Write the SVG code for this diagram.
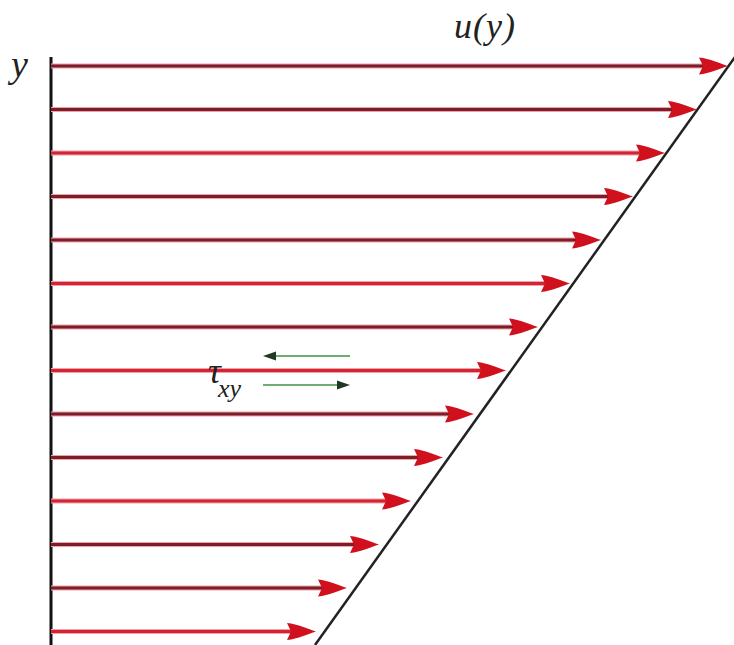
<svg xmlns="http://www.w3.org/2000/svg" width="734" height="645" viewBox="0 0 734 645">
<style>
.bg{fill:#ffffff}
.axis{stroke:#111;stroke-width:3;fill:none}
.prof{stroke:#222;stroke-width:2.5;fill:none}
.halo{stroke:#f3a0a8;stroke-width:5;fill:none}
.r{stroke:#d32434;stroke-width:3;fill:none}
.d{stroke:#7a1e2a;stroke-width:3;fill:none}
.head{fill:#d0101c}
.g{stroke:#6fae72;stroke-width:2;fill:none}
.ghead{fill:#1f3a22}
.lbl{font-family:"Liberation Serif","DejaVu Serif",serif;font-style:italic;fill:#222}
</style>
<defs>
<path id="ah" d="M0,0 C-8,-2.5 -18,-7.5 -29,-8.5 L-25,0 L-29,8.5 C-18,7.5 -8,2.5 0,0Z"/>
<path id="gh" d="M0,0 L-13,-4.5 L-13,4.5Z"/>
</defs>
<rect class="bg" x="0" y="0" width="734" height="645"/>
<g id="connectors">
<line id="y-axis" class="axis" x1="51" y1="57" x2="51" y2="645"/>
<line id="profile" class="prof" x1="735" y1="57" x2="315" y2="645"/>
<g id="velocity-arrows">
<g id="v1"><line class="halo" x1="51" y1="66" x2="712" y2="66"/><line class="d" x1="51" y1="66" x2="712" y2="66"/><use href="#ah" class="head" x="728" y="66"/></g>
<g id="v2"><line class="halo" x1="51" y1="109.5" x2="681" y2="109.5"/><line class="d" x1="51" y1="109.5" x2="681" y2="109.5"/><use href="#ah" class="head" x="697" y="109.5"/></g>
<g id="v3"><line class="halo" x1="51" y1="153" x2="649" y2="153"/><line class="r" x1="51" y1="153" x2="649" y2="153"/><use href="#ah" class="head" x="665" y="153"/></g>
<g id="v4"><line class="halo" x1="51" y1="196.5" x2="617" y2="196.5"/><line class="d" x1="51" y1="196.5" x2="617" y2="196.5"/><use href="#ah" class="head" x="633" y="196.5"/></g>
<g id="v5"><line class="halo" x1="51" y1="240" x2="585" y2="240"/><line class="d" x1="51" y1="240" x2="585" y2="240"/><use href="#ah" class="head" x="601" y="240"/></g>
<g id="v6"><line class="halo" x1="51" y1="283.5" x2="554" y2="283.5"/><line class="r" x1="51" y1="283.5" x2="554" y2="283.5"/><use href="#ah" class="head" x="570" y="283.5"/></g>
<g id="v7"><line class="halo" x1="51" y1="327" x2="522" y2="327"/><line class="d" x1="51" y1="327" x2="522" y2="327"/><use href="#ah" class="head" x="538" y="327"/></g>
<g id="v8"><line class="halo" x1="51" y1="370.5" x2="490" y2="370.5"/><line class="r" x1="51" y1="370.5" x2="490" y2="370.5"/><use href="#ah" class="head" x="506" y="370.5"/></g>
<g id="v9"><line class="halo" x1="51" y1="414" x2="458" y2="414"/><line class="d" x1="51" y1="414" x2="458" y2="414"/><use href="#ah" class="head" x="474" y="414"/></g>
<g id="v10"><line class="halo" x1="51" y1="457.5" x2="427" y2="457.5"/><line class="d" x1="51" y1="457.5" x2="427" y2="457.5"/><use href="#ah" class="head" x="443" y="457.5"/></g>
<g id="v11"><line class="halo" x1="51" y1="501" x2="395" y2="501"/><line class="r" x1="51" y1="501" x2="395" y2="501"/><use href="#ah" class="head" x="411" y="501"/></g>
<g id="v12"><line class="halo" x1="51" y1="544.5" x2="363" y2="544.5"/><line class="d" x1="51" y1="544.5" x2="363" y2="544.5"/><use href="#ah" class="head" x="379" y="544.5"/></g>
<g id="v13"><line class="halo" x1="51" y1="588" x2="331" y2="588"/><line class="d" x1="51" y1="588" x2="331" y2="588"/><use href="#ah" class="head" x="347" y="588"/></g>
<g id="v14"><line class="halo" x1="51" y1="631.5" x2="300" y2="631.5"/><line class="r" x1="51" y1="631.5" x2="300" y2="631.5"/><use href="#ah" class="head" x="316" y="631.5"/></g>
</g>
<g id="shear-arrows">
<g id="shear-left"><line class="g" x1="350" y1="356" x2="272" y2="356"/><use href="#gh" class="ghead" transform="translate(263,356) rotate(180)"/></g>
<g id="shear-right"><line class="g" x1="263" y1="385" x2="340" y2="385"/><use href="#gh" class="ghead" x="350" y="385"/></g>
</g>
</g>
<g id="label-y"><text class="lbl" x="11" y="77" font-size="38">y</text></g>
<g id="label-u"><text class="lbl" x="454" y="38" font-size="36" letter-spacing="1">u(y)</text></g>
<g id="label-tau"><text class="lbl" x="208" y="383" font-size="36">τ<tspan font-size="26" dx="-3" dy="14">xy</tspan></text></g>
</svg>
